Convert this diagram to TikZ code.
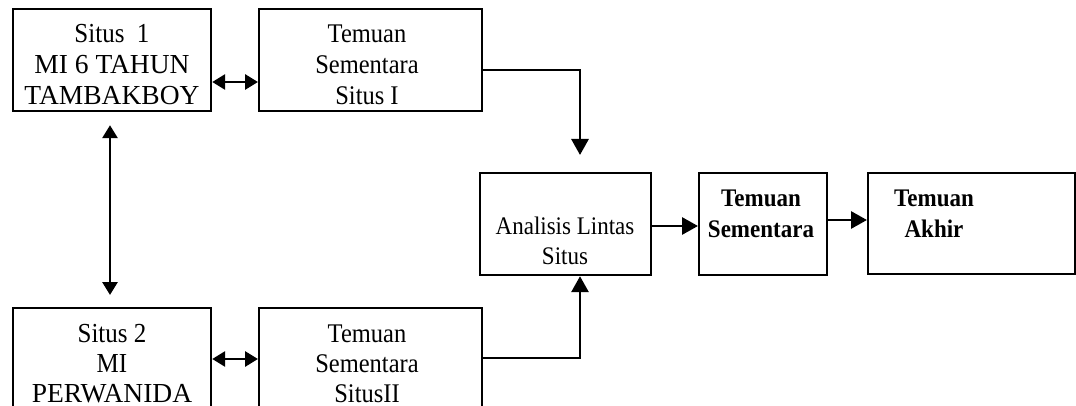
\documentclass[tikz,border=0pt]{standalone}
\usepackage{fontspec}
\usepackage{graphicx}
\setmainfont{Liberation Serif}
\usetikzlibrary{arrows.meta,calc}
% stacked, slightly tall lines of box text; the box baseline is the first line's
\newcommand{\stk}[1]{\scalebox{1}[1.1]{\begin{tabular}[t]{@{}c@{}}#1\end{tabular}}}
\newcommand{\wide}[1]{\scalebox{1.1}[1]{#1}}
\begin{document}
\begin{tikzpicture}[x=1pt,y=-1pt,
  box/.style={draw,line width=2.2pt,inner sep=0pt,anchor=north west},
  txt/.style={inner sep=0pt,anchor=base},
  link/.style={line width=2.9pt,-{Triangle[length=16pt,width=17pt]}},
  dlink/.style={line width=2.9pt,{Triangle[length=13pt,width=15pt]}-{Triangle[length=13pt,width=15pt]}}]
\useasboundingbox (0,0) rectangle (1076,406);
\begin{scope}
\clip (0,0) rectangle (1076,406);
% site boxes and their interim findings
\node[box,minimum width=198pt,minimum height=102pt] (s1) at (12,8) {};
\node[box,minimum width=223pt,minimum height=102pt] (t1) at (258,8) {};
\node[box,minimum width=198pt,minimum height=110pt] (s2) at (12,307) {};
\node[box,minimum width=223pt,minimum height=110pt] (t2) at (258,307) {};
% cross-site analysis and findings
\node[box,minimum width=171pt,minimum height=102pt] (an) at (479,172) {};
\node[box,minimum width=128pt,minimum height=102pt] (ts) at (698,172) {};
\node[box,minimum width=207pt,minimum height=101pt] (ta) at (867,172) {};
\end{scope}
% box texts, cut off at the box borders
\begin{scope}
\clip (s1.south west) rectangle (s1.north east);
\node[txt,font=\fontsize{25}{28}\selectfont] (s1t) at (112,43)
  {\stk{Situs\ \ 1\\\wide{MI 6 TAHUN}\\\wide{TAMBAKBOY}}};
\end{scope}
\begin{scope}
\clip (t1.south west) rectangle (t1.north east);
\node[txt,font=\fontsize{24.5}{28}\selectfont] (t1t) at (367,43)
  {\stk{Temuan\\Sementara\\Situs I}};
\end{scope}
\begin{scope}
\clip (s2.south west) rectangle (s2.north east);
\clip (0,0) rectangle (1076,406);
\node[txt,font=\fontsize{25}{27.3}\selectfont] (s2t) at (112,342)
  {\stk{Situs 2\\MI\\\wide{PERWANIDA}}};
\end{scope}
\begin{scope}
\clip (t2.south west) rectangle (t2.north east);
\clip (0,0) rectangle (1076,406);
\node[txt,font=\fontsize{24.5}{27.3}\selectfont] (t2t) at (367,342)
  {\stk{Temuan\\Sementara\\SitusII}};
\end{scope}
\node[txt,font=\fontsize{23}{26.5}\selectfont] (ant) at (565,235)
  {\stk{Analisis Lintas\\Situs}};
\node[txt,font=\fontsize{23}{28}\bfseries\selectfont] (tst) at (761,207)
  {\stk{Temuan\\Sementara}};
\node[txt,font=\fontsize{23}{28}\bfseries\selectfont] (tat) at (934,207)
  {\stk{Temuan\\Akhir}};
% connectors
\draw[dlink] (s1.east|-0,82) -- (t1.west|-0,82);
\draw[dlink] (s2.east|-0,359) -- (t2.west|-0,359);
\draw[dlink,shorten <=13pt,shorten >=12pt] (s1.south-|110,0) -- (s2.north-|110,0);
\coordinate (c1) at (580,70);
\coordinate (c2) at (580,358);
\draw[link,shorten >=17pt] (t1.east|-c1) -- (c1) -- (c1|-an.north);
\draw[link] (t2.east|-c2) -- (c2) -- (c2|-an.south);
\draw[link] (an.east|-0,226) -- (ts.west|-0,226);
\draw[link] (ts.east|-0,220) -- (ta.west|-0,220);
\end{tikzpicture}
\end{document}
